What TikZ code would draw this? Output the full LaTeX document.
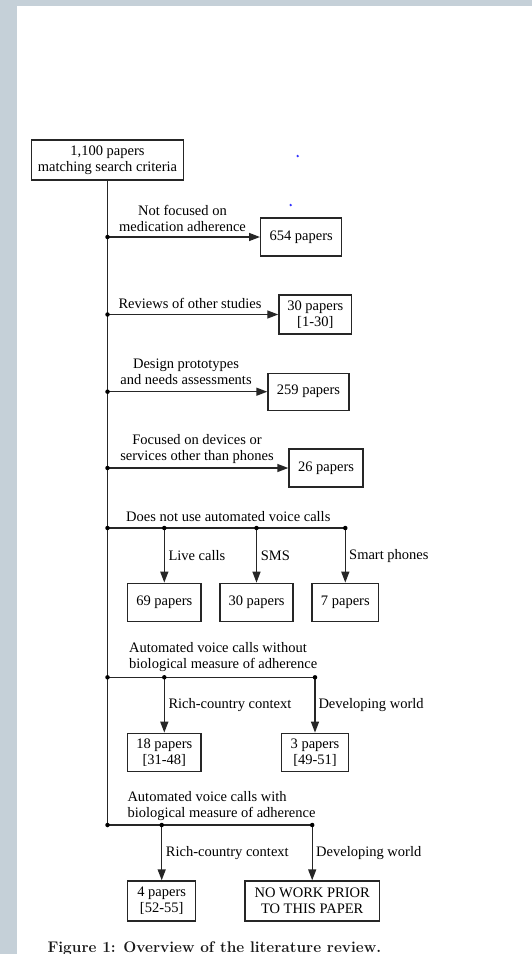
\documentclass[tikz,border=0pt]{standalone}
\usepackage{fontspec}
\newfontfamily\tnr{Liberation Serif}
\usetikzlibrary{arrows.meta}
\definecolor{pagegray}{HTML}{C5D0D8}
\begin{document}
\begin{tikzpicture}[x=1pt,y=-1pt,
  txt/.style={font=\tnr\fontsize{14.5}{16}\selectfont, inner sep=0pt, text=black},
  pbox/.style={txt, draw=black!85, line width=1.4pt, align=center},
  lbl/.style={txt, align=center},
  lbll/.style={txt, align=left, anchor=west},
  lblw/.style={txt, anchor=west},
  ln/.style={draw=black!85, line width=1.4pt},
  arr/.style={ln, -{Triangle[length=11pt,width=8pt]}},
  jdot/.style={circle, fill=black, inner sep=0pt, minimum size=4.5pt}]
\useasboundingbox (0,0) rectangle (532,954);
\fill[pagegray] (0,0) rectangle (532,954);
\fill[white] (17,5.5) rectangle (532,954);
% stray blue dots
\fill[blue!80] (297.7,156) circle (1.3);
\fill[blue!80] (290.7,205) circle (1.3);

% boxes
\node[pbox, minimum width=152pt, minimum height=40pt] (top) at (107.5,160) {1,100 papers\\matching search criteria};
\node[pbox, minimum width=81pt, minimum height=38pt] (b654) at (301.2,237) {654 papers};
\node[pbox, minimum width=72.7pt, minimum height=39pt] (b30a) at (315.3,314.5) {30 papers\\{[1-30]}};
\node[pbox, minimum width=81pt, minimum height=37pt] (b259) at (308.5,391.7) {259 papers};
\node[pbox, minimum width=74pt, minimum height=38pt] (b26) at (326,468) {26 papers};
\node[pbox, minimum width=73.3pt, minimum height=38.4pt] (b69) at (164.3,602.5) {69 papers};
\node[pbox, minimum width=72.7pt, minimum height=38.4pt] (b30b) at (256.5,602.5) {30 papers};
\node[pbox, minimum width=66.6pt, minimum height=38.4pt] (b7) at (345.3,602.5) {7 papers};
\node[pbox, minimum width=73.3pt, minimum height=38.4pt] (b18) at (164.3,752.5) {18 papers\\{[31-48]}};
\node[pbox, minimum width=66.6pt, minimum height=38.4pt] (b3) at (315,752.5) {3 papers\\{[49-51]}};
\node[pbox, minimum width=68pt, minimum height=40pt] (b4) at (161.7,901) {4 papers\\{[52-55]}};
\node[pbox, minimum width=134.3pt, minimum height=40pt] (bnw) at (312.2,901) {NO WORK PRIOR\\TO THIS PAPER};

% junction coordinates
\coordinate (j1) at (107.5,237);
\coordinate (j2) at (107.5,314.5);
\coordinate (j3) at (107.5,391.7);
\coordinate (j4) at (107.5,468);
\coordinate (j5) at (107.5,528);
\coordinate (j6) at (107.5,677.3);
\coordinate (j7) at (107.5,825);
\coordinate (k5a) at (164.3,528);
\coordinate (k5b) at (256.5,528);
\coordinate (k5c) at (345.3,528);
\coordinate (k6a) at (164.3,677.3);
\coordinate (k6b) at (315,677.3);
\coordinate (k7a) at (161.7,825);
\coordinate (k7b) at (312.2,825);

% trunk and branches
\draw[ln] (top.south) -- (j7);
\draw[arr] (j1) -- (b654.west);
\draw[arr] (j2) -- (b30a.west);
\draw[arr] (j3) -- (b259.west);
\draw[arr] (j4) -- (b26.west);
\draw[ln] (j5) -- (k5c);
\draw[arr] (k5a) -- (b69.north);
\draw[arr] (k5b) -- (b30b.north);
\draw[arr] (k5c) -- (b7.north);
\draw[ln] (j6) -- (k6b);
\draw[arr] (k6a) -- (b18.north);
\draw[arr] (k6b) -- (b3.north);
\draw[ln] (j7) -- (k7b);
\draw[arr] (k7a) -- (b4.north);
\draw[arr] (k7b) -- (bnw.north);

% junction dots
\foreach \c in {j1,j2,j3,j4,j5,j6,j7,k5a,k5b,k5c,k6a,k6b,k7a,k7b}
  \node[jdot] at (\c) {};

% labels
\node[lbl] (l1) at (182.5,218.2) {Not focused on\\medication adherence};
\node[lbl] (l2) at (190,303) {Reviews of other studies};
\node[lbl] (l3) at (186,372) {Design prototypes\\and needs assessments};
\node[lbl] (l4) at (197,449.5) {Focused on devices or\\services other than phones};
\node[lbl] (l5) at (228.3,516.7) {Does not use automated voice calls};
\node[lblw] (l5a) at (168.3,556) {Live calls};
\node[lblw] (l5b) at (260.7,556) {SMS};
\node[lblw] (l5c) at (349,556) {Smart phones};
\node[lbll] (l6) at (129,657.5) {Automated voice calls without\\biological measure of adherence};
\node[lblw] (l6a) at (168.3,705) {Rich-country context};
\node[lblw] (l6b) at (318.3,705) {Developing world};
\node[lbll] (l7) at (127.3,806.5) {Automated voice calls with\\biological measure of adherence};
\node[lblw] (l7a) at (165.7,853.3) {Rich-country context};
\node[lblw] (l7b) at (316,853.3) {Developing world};

% caption
\node[anchor=base west, inner sep=0pt, text=black!90, font=\bfseries\fontsize{15.4}{18}\selectfont] (cap) at (47.3,952.5) {Figure 1: Overview of the literature review.};
\end{tikzpicture}
\end{document}
